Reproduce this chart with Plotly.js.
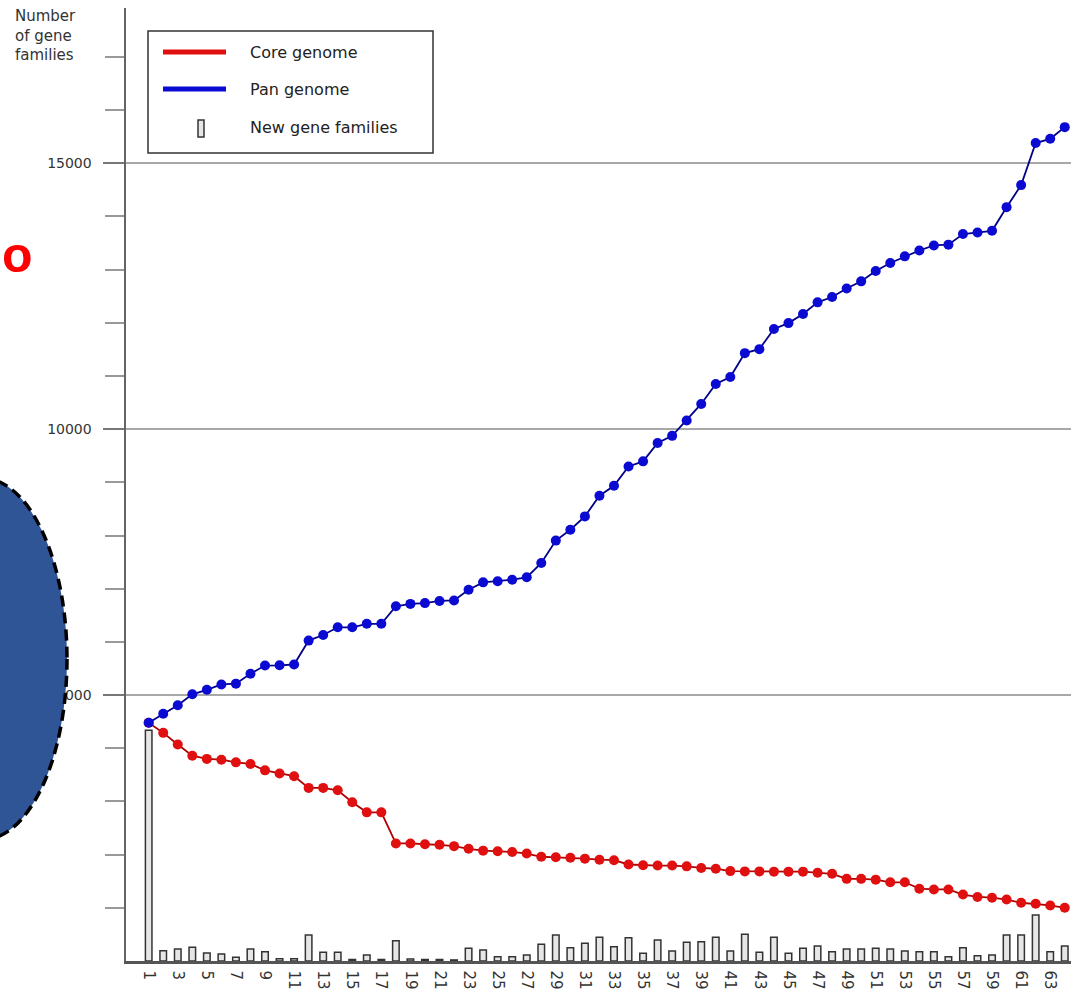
<!DOCTYPE html>
<html>
<head>
<meta charset="utf-8">
<script src="https://cdn.plot.ly/plotly-3.0.1.min.js"></script>
<style>html,body{margin:0;padding:0;background:#fff;}#chart{width:1071px;height:997px;}</style>
</head>
<body>
<div id="chart"></div>
<script>
// ---- data ----
const genomes = [1,2,3,4,5,6,7,8,9,10,11,12,13,14,15,16,17,18,19,20,21,22,23,24,25,26,27,28,29,30,31,32,
  33,34,35,36,37,38,39,40,41,42,43,44,45,46,47,48,49,50,51,52,53,54,55,56,57,58,59,60,61,62,63,64];

const coreGenome = [4480,4290,4070,3860,3800,3785,3735,3705,3585,3525,3475,3255,3255,3210,2985,2795,
  2795,2210,2210,2195,2185,2160,2110,2075,2065,2050,2020,1960,1950,1940,1925,1905,
  1895,1815,1800,1795,1795,1780,1750,1735,1690,1685,1685,1680,1680,1680,1660,1640,
  1545,1545,1530,1480,1480,1360,1345,1345,1250,1205,1190,1155,1095,1075,1045,1000];

const panGenome = [4480,4650,4810,5015,5100,5200,5215,5400,5555,5560,5575,6025,6130,6275,6275,6340,
  6340,6670,6715,6730,6770,6780,6980,7120,7140,7170,7215,7485,7905,8110,8360,8750,
  8935,9300,9395,9740,9875,10165,10475,10850,10980,11430,11505,11885,11995,12165,12385,12485,
  12645,12780,12975,13125,13250,13360,13455,13470,13670,13700,13730,14175,14590,15380,15460,15680];

const newGeneFamilies = [4340,194,226,257,150,132,70,226,175,40,40,489,164,164,30,113,
  30,382,38,30,30,20,238,207,80,80,113,313,489,251,332,445,
  269,439,144,395,188,351,363,445,188,501,163,445,144,238,282,175,
  226,226,238,226,188,175,175,81,251,100,113,489,489,865,175,282];

const xTickVals = [1,3,5,7,9,11,13,15,17,19,21,23,25,27,29,31,33,35,37,39,41,43,45,47,49,51,53,55,57,59,61,63];
const xTickText = ['1','3','5','7','9','11','13','15','17','19','21','23','25','27','29','31','33','35','37','39',
  '41','43','45','47','49','51','53','55','57','59','61','63'];
const yTickVals = [5000,10000,15000];
const yTickText = ['5000','10000','15000'];
const yMinorVals = [1000,2000,3000,4000,6000,7000,8000,9000,11000,12000,13000,14000,16000,17000];

const legendLabels = ['Core genome','Pan genome','New gene families'];
const yTitleText = 'Number<br>of gene<br>families';
const sideText = 'o';

// ---- layout helpers ----
const W = 1071, H = 997, ML = 126, MR = 0, MT = 8, MB = 36;
const px = x => (x - ML) / (W - ML - MR);
const py = y => (H - MB - y) / (H - MT - MB);

const RED = '#e01010', BLUE = '#0a0ad2';

const traces = [
  {
    type: 'bar', x: genomes, y: newGeneFamilies, width: 0.45,
    marker: {color: '#e6e6e6', line: {color: '#333', width: 1.5}},
    showlegend: false, hoverinfo: 'x+y'
  },
  {
    type: 'scatter', mode: 'lines+markers', x: genomes, y: coreGenome,
    line: {color: '#b00000', width: 1.8},
    marker: {color: RED, size: 10},
    showlegend: false, cliponaxis: false
  },
  {
    type: 'scatter', mode: 'lines+markers', x: genomes, y: panGenome,
    line: {color: '#00008a', width: 1.8},
    marker: {color: BLUE, size: 10},
    showlegend: false, cliponaxis: false
  }
];

const legendTextFont = {family: 'DejaVu Sans', size: 16, color: '#222'};

const shapes = [
  // legend box
  {type: 'rect', xref: 'paper', yref: 'paper', x0: px(148), x1: px(433), y0: py(153), y1: py(31),
   line: {color: '#333', width: 1.5}, fillcolor: '#fff', layer: 'above'},
  {type: 'line', xref: 'paper', yref: 'paper', x0: px(163), x1: px(226), y0: py(52), y1: py(52),
   line: {color: RED, width: 5}, layer: 'above'},
  {type: 'line', xref: 'paper', yref: 'paper', x0: px(163), x1: px(226), y0: py(89), y1: py(89),
   line: {color: BLUE, width: 5}, layer: 'above'},
  {type: 'rect', xref: 'paper', yref: 'paper', x0: px(198), x1: px(204), y0: py(137), y1: py(120),
   line: {color: '#333', width: 1.5}, fillcolor: '#e6e6e6', layer: 'above'},
  // cut-off blue ellipse from the slide
  {type: 'circle', xref: 'paper', yref: 'paper', x0: px(-103), x1: px(67), y0: py(840), y1: py(478),
   fillcolor: '#2f5597', line: {color: '#000', width: 3.5, dash: '11px,6px'}, layer: 'above'}
];

const annotations = [
  {xref: 'paper', yref: 'paper', x: px(248), y: py(53), xanchor: 'left', yanchor: 'middle',
   text: legendLabels[0], showarrow: false, font: legendTextFont},
  {xref: 'paper', yref: 'paper', x: px(248), y: py(90), xanchor: 'left', yanchor: 'middle',
   text: legendLabels[1], showarrow: false, font: legendTextFont},
  {xref: 'paper', yref: 'paper', x: px(248), y: py(127), xanchor: 'left', yanchor: 'middle',
   text: legendLabels[2], showarrow: false, font: legendTextFont},
  {xref: 'paper', yref: 'paper', x: px(13), y: py(5), xanchor: 'left', yanchor: 'top', align: 'left',
   text: yTitleText, showarrow: false, font: {family: 'DejaVu Sans', size: 15, color: '#333'}},
  {xref: 'paper', yref: 'paper', x: px(0), y: py(255), xanchor: 'left', yanchor: 'middle',
   text: '<b>' + sideText + '</b>', showarrow: false,
   font: {family: 'Liberation Sans, Arial', size: 50, color: '#ff0000'}}
];

const layout = {
  width: W, height: H,
  margin: {l: ML, r: MR, t: MT, b: MB, pad: 0},
  paper_bgcolor: '#fff', plot_bgcolor: '#fff',
  font: {family: 'DejaVu Sans', color: '#333'},
  showlegend: false,
  bargap: 0,
  xaxis: {
    range: [-0.56, 64.43], tickmode: 'array', tickvals: xTickVals, ticktext: xTickText,
    tickangle: 90, ticks: '', showgrid: false, zeroline: false,
    showline: true, linecolor: '#555', linewidth: 2.5,
    tickfont: {family: 'DejaVu Sans', size: 15, color: '#333'}, ticklabelstandoff: 4
  },
  yaxis: {
    range: [0, 17920], tickmode: 'array', tickvals: yTickVals, ticktext: yTickText,
    ticks: 'outside', ticklen: 21, tickwidth: 2, tickcolor: '#777',
    showgrid: true, gridcolor: '#a8a8a8', gridwidth: 2, zeroline: false,
    showline: true, linecolor: '#666', linewidth: 2.5,
    tickfont: {family: 'DejaVu Sans', size: 14, color: '#333'}, ticklabelstandoff: 8,
    minor: {tickmode: 'array', tickvals: yMinorVals, ticks: 'outside', ticklen: 19,
            tickwidth: 2, tickcolor: '#999', showgrid: false}
  },
  shapes: shapes,
  annotations: annotations
};

Plotly.newPlot('chart', traces, layout, {staticPlot: true, displayModeBar: false});
</script>
</body>
</html>
